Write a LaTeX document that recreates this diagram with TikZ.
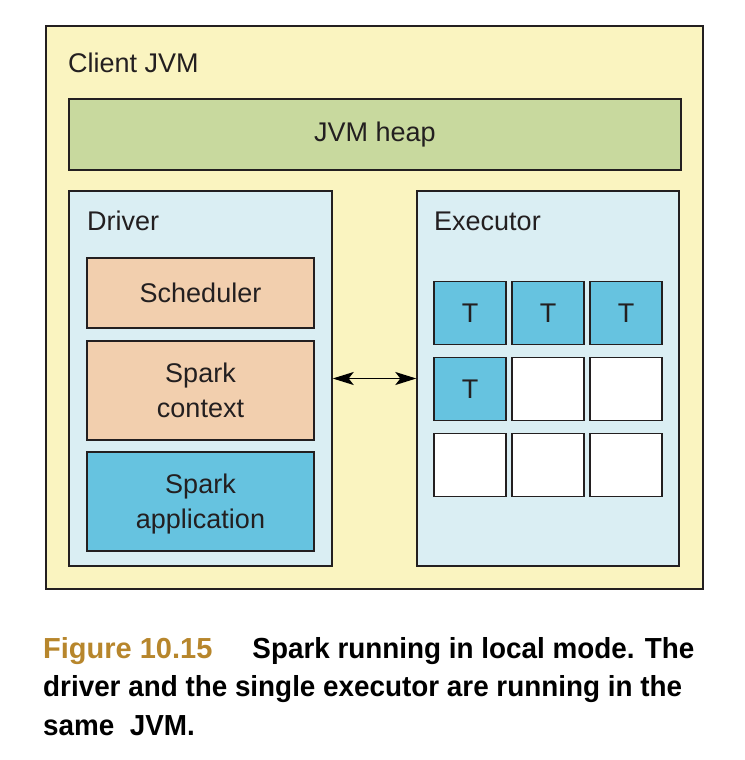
\documentclass[tikz,border=0pt]{standalone}
\usepackage{fontspec}
\setmainfont{Liberation Sans}
\newfontfamily\capfont[FakeStretch=0.96]{Liberation Sans}
\definecolor{jvmyellow}{RGB}{250, 244, 192}
\definecolor{heapgreen}{RGB}{200, 217, 158}
\definecolor{procblue}{RGB}{218, 238, 243}
\definecolor{corepeach}{RGB}{242, 207, 174}
\definecolor{taskblue}{RGB}{102, 195, 224}
\definecolor{inkgray}{RGB}{35, 31, 32}
\definecolor{figgold}{RGB}{183, 134, 44}
\usepackage{tikz}
\usetikzlibrary{arrows.meta, positioning}

\begin{document}
\begin{tikzpicture}[x=1pt, y=-1pt,
  >={Stealth[length=21pt, width=13pt, inset=5pt]},
  box/.style={draw=inkgray, line width=1.4pt, inner sep=0pt, text=inkgray, align=center, font=\fontsize{27}{35}\selectfont},
  boxlabel/.style={anchor=west, inner sep=0pt, text=inkgray, font=\fontsize{27}{35}\selectfont},
  task/.style={box, minimum width=72pt, minimum height=63pt}]
  \useasboundingbox (0,0) rectangle (744,760);

  % Client JVM
  \node[box, fill=jvmyellow, minimum width=657pt, minimum height=563pt] (client) at (374.5, 307.5) {};
  \node[boxlabel] (clientlabel) at (68, 63) {Client JVM};

  \node[box, fill=heapgreen, minimum width=612pt, minimum height=71pt] (heap) at (375, 134.5) {JVM heap};

  % Driver
  \node[box, fill=procblue, minimum width=263pt, minimum height=375pt] (driver) at (200.5, 378.5) {};
  \node[boxlabel] (driverlabel) at (87, 221) {Driver};

  \node[box, fill=corepeach, minimum width=227pt, minimum height=70pt] (sched) at (200.5, 293) {Scheduler};
  \node[box, fill=corepeach, minimum width=227pt, minimum height=99pt] (context) at (200.5, 390.5) {Spark\\context};
  \node[box, fill=taskblue, minimum width=227pt, minimum height=99pt, text depth=0pt] (app) at (200.5, 501.5) {Spark\\application};

  % Executor
  \node[box, fill=procblue, minimum width=262pt, minimum height=375pt] (executor) at (548, 378.5) {};
  \node[boxlabel] (executorlabel) at (434, 221) {Executor};

  % Task slots
  \foreach \c/\r/\f/\t in {1/1/taskblue/T, 2/1/taskblue/T, 3/1/taskblue/T,
                           1/2/taskblue/T, 2/2/white/, 3/2/white/,
                           1/3/white/, 2/3/white/, 3/3/white/}
    \node[task, fill=\f] (task\c\r) at ({470 + 78*(\c-1)}, {313 + 76*(\r-1)}) {\t};

  \draw[<->, line width=1.4pt] (driver.east) -- (executor.west);

  % Caption
  \node[anchor=north west, inner sep=0pt, align=left, font=\capfont\bfseries\fontsize{29}{38.5}\selectfont] (caption) at (43, 637) {
    {\rmfamily\color{figgold}Figure 10.15}\hspace{40pt}Spark running in local mode. The\\
    driver and the single executor are running in the\\
    same~~JVM.
  };
\end{tikzpicture}
\end{document}
